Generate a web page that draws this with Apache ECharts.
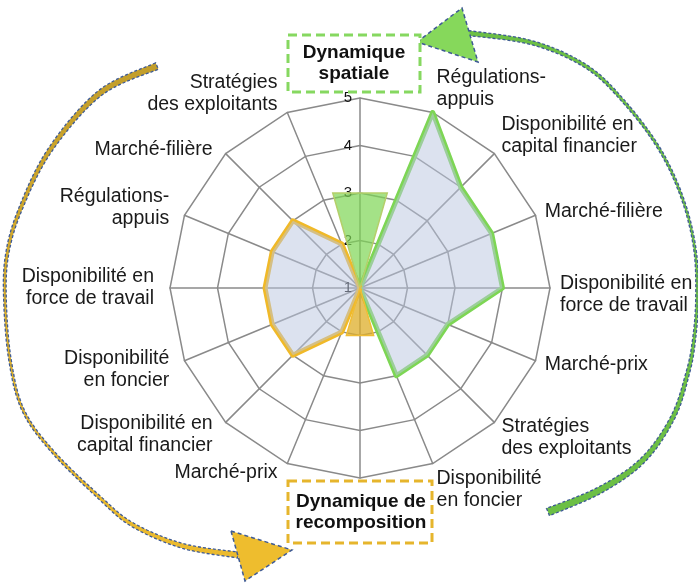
<!DOCTYPE html>
<html>
<head>
<meta charset="utf-8">
<script src="https://cdn.jsdelivr.net/npm/echarts@6/dist/echarts.min.js"></script>
<style>
  html, body { margin: 0; padding: 0; background: #fff; }
  #chart { width: 698px; height: 583px; }
</style>
</head>
<body>
<div id="chart"></div>
<script>
// axes, counterclockwise from the top (ECharts radar order)
const axisNames = [
  'Dynamique\nspatiale',
  'Stratégies\ndes exploitants',
  'Marché-filière',
  'Régulations-\nappuis',
  'Disponibilité en\nforce de travail',
  'Disponibilité\nen foncier',
  'Disponibilité en\ncapital financier',
  'Marché-prix',
  'Dynamique de\nrecomposition',
  'Disponibilité\nen foncier',
  'Stratégies\ndes exploitants',
  'Marché-prix',
  'Disponibilité en\nforce de travail',
  'Marché-filière',
  'Disponibilité en\ncapital financier',
  'Régulations-\nappuis'
]
const spatialValues = [1, 1, 1, 1, 1, 1, 1, 1, 1, 3, 3, 3, 4, 4, 4, 5]
const recompValues = [1, 2, 3, 3, 3, 3, 3, 2, 1, 1, 1, 1, 1, 1, 1, 1]
// the two "dynamique" wedges: axis index and value
const wedgeAxis = [0, 8]
const wedgeValues = [3, 2]
const tickLabels = ['1', '2', '3', '4', '5']

// layout only: vertical nudge of each axis name (px, + = down)
const nameShift = [0, -10, 3, -4, 0, 5, 5, 0, 0, 17, 8, 0, 7, 0, -11, -15]

const CX = 360
const CY = 288
const R = 190
const font = 'Liberation Sans'

const chart = echarts.init(document.getElementById('chart'))

const rich = {}
nameShift.forEach(s => {
  if (s) rich['g' + Math.abs(s)] = { lineHeight: 2 * Math.abs(s), fontSize: 1 }
})

function nameFormatter (name, ind) {
  if (name.indexOf('Dynamique') === 0) return ''
  const s = ind && ind.shift ? ind.shift : 0
  if (s > 0) return '{g' + s + '| }\n' + name
  if (s < 0) return name + '\n{g' + (-s) + '| }'
  return name
}

// catmull-rom through a few guide points, then a tapered band around it
function band (pts, w0, w1, w2) {
  const line = []
  for (let i = 0; i < pts.length - 1; i++) {
    const p0 = pts[Math.max(i - 1, 0)]
    const p1 = pts[i]
    const p2 = pts[i + 1]
    const p3 = pts[Math.min(i + 2, pts.length - 1)]
    for (let k = 0; k < 10; k++) {
      const t = k / 10
      const t2 = t * t
      const t3 = t2 * t
      line.push([0, 1].map(d => 0.5 * (2 * p1[d] + (-p0[d] + p2[d]) * t +
        (2 * p0[d] - 5 * p1[d] + 4 * p2[d] - p3[d]) * t2 +
        (-p0[d] + 3 * p1[d] - 3 * p2[d] + p3[d]) * t3)))
    }
  }
  line.push(pts[pts.length - 1])
  const a = []
  const b = []
  const n = line.length
  line.forEach((p, i) => {
    const q = line[Math.min(i + 1, n - 1)]
    const o = line[Math.max(i - 1, 0)]
    let dx = q[0] - o[0]
    let dy = q[1] - o[1]
    const len = Math.hypot(dx, dy) || 1
    dx /= len; dy /= len
    const t = i / (n - 1)
    const w = w0 * (1 - t) * (1 - 2 * t) + 4 * w1 * t * (1 - t) + w2 * t * (2 * t - 1)
    a.push([p[0] - dy * w / 2, p[1] + dx * w / 2])
    b.push([p[0] + dy * w / 2, p[1] - dx * w / 2])
  })
  return a.concat(b.reverse())
}

const leftArc = [[157, 66], [100, 93], [50, 150], [20, 210], [7, 255], [5, 300], [10, 360], [23, 410], [53, 452], [100, 498], [133, 525], [183, 546], [238, 555]]
const rightArc = [[468, 33], [533, 43], [587, 67], [625, 103], [660, 150], [683, 200], [695, 250], [697, 300], [694, 340], [688, 372], [673, 417], [643, 460], [600, 490], [548, 512]]

const half = 16

const option = {
  animation: false,
  radar: {
    center: [CX, CY],
    radius: R,
    startAngle: 90,
    shape: 'polygon',
    splitNumber: 4,
    nameGap: 10,
    indicator: axisNames.map((n, i) => ({ name: n, min: 1, max: 5, shift: nameShift[i] })),
    axisName: {
      color: '#1a1a1a',
      fontSize: 19.5,
      fontFamily: font,
      lineHeight: 22,
      padding: [0, 6, 0, 0],
      rich: rich,
      formatter: nameFormatter
    },
    splitLine: { lineStyle: { color: '#8a8a8a', width: 1.5 } },
    splitArea: { show: false },
    axisLine: { lineStyle: { color: '#8a8a8a', width: 1.5 } }
  },
  polar: { center: [CX, CY], radius: R },
  angleAxis: {
    type: 'value', min: 0, max: 360, startAngle: 90, show: false
  },
  radiusAxis: {
    type: 'value', min: 1, max: 5, interval: 1,
    axisLine: { show: false },
    axisTick: { show: false },
    splitLine: { show: false },
    axisLabel: {
      color: '#111', fontSize: 15, fontFamily: font, margin: 8,
      formatter: v => tickLabels[v - 1]
    }
  },
  series: [
    {
      type: 'radar',
      symbol: 'none',
      z: 2,
      lineStyle: { width: 5 },
      data: [
        {
          value: spatialValues,
          lineStyle: { color: '#7dd654', width: 5 },
          areaStyle: { color: 'rgba(186,198,224,0.5)', opacity: 1 }
        },
        {
          value: recompValues,
          lineStyle: { color: '#f0b928', width: 5 },
          areaStyle: { color: 'rgba(186,198,224,0.5)', opacity: 1 }
        }
      ]
    },
    {
      type: 'custom',
      coordinateSystem: 'polar',
      z: 3,
      data: wedgeValues.map((v, i) => [v, wedgeAxis[i] * 360 / axisNames.length]),
      renderItem: (params, api) => {
        const v = api.value(0)
        const a = api.value(1)
        const k = (v - 1) / Math.cos(half * Math.PI / 180)
        const c = api.coord([1, a])
        const p1 = api.coord([1 + k, (a - half + 360) % 360])
        const p2 = api.coord([1 + k, (a + half) % 360])
        const green = params.dataIndex === 0
        return {
          type: 'polygon',
          shape: { points: [c, p1, p2] },
          style: {
            fill: green ? 'rgba(125,214,84,0.7)' : 'rgba(222,174,40,0.75)',
            stroke: green ? '#b4cf6a' : '#f0bd35',
            lineWidth: 1.5
          }
        }
      }
    }
  ],
  graphic: [
    // left gold arrow
    {
      type: 'polygon', z: 10,
      shape: { points: band(leftArc, 7, 2.5, 6) },
      style: {
        fill: new echarts.graphic.LinearGradient(0, 0, 0, 1, [
          { offset: 0, color: '#c29e2b' }, { offset: 1, color: '#ecbb2e' }
        ]),
        stroke: '#3f5b95', lineWidth: 1.3, lineDash: [3, 2]
      }
    },
    {
      type: 'polygon', z: 12,
      shape: { points: [[231, 531], [292, 550], [245, 581]] },
      style: { fill: '#eebd2e', stroke: '#3f5b95', lineWidth: 1.5, lineDash: [4, 3] }
    },
    // right green arrow
    {
      type: 'polygon', z: 10,
      shape: { points: band(rightArc, 5, 2.5, 8) },
      style: { fill: '#6cbf45', stroke: '#3f5b95', lineWidth: 1.3, lineDash: [3, 2] }
    },
    {
      type: 'polygon', z: 12,
      shape: { points: [[417, 42], [462, 8], [478, 62]] },
      style: { fill: '#86d85b', stroke: '#3f5b95', lineWidth: 1.5, lineDash: [4, 3] }
    },
    // dashed boxes with the two dynamics
    {
      type: 'rect', z: 12,
      shape: { x: 288, y: 35, width: 132, height: 57 },
      style: { fill: '#fff', stroke: '#86d860', lineWidth: 3, lineDash: [9, 5] }
    },
    {
      type: 'text', z: 13, x: 354, y: 63,
      style: {
        text: axisNames[wedgeAxis[0]], font: 'bold 19px ' + font, fill: '#111',
        textAlign: 'center', textVerticalAlign: 'middle', lineHeight: 21
      }
    },
    {
      type: 'rect', z: 12,
      shape: { x: 288, y: 481, width: 144, height: 62 },
      style: { fill: '#fff', stroke: '#e6b52c', lineWidth: 3, lineDash: [9, 5] }
    },
    {
      type: 'text', z: 13, x: 361, y: 512,
      style: {
        text: axisNames[wedgeAxis[1]], font: 'bold 19px ' + font, fill: '#111',
        textAlign: 'center', textVerticalAlign: 'middle', lineHeight: 21
      }
    }
  ]
}

chart.setOption(option)
</script>
</body>
</html>
